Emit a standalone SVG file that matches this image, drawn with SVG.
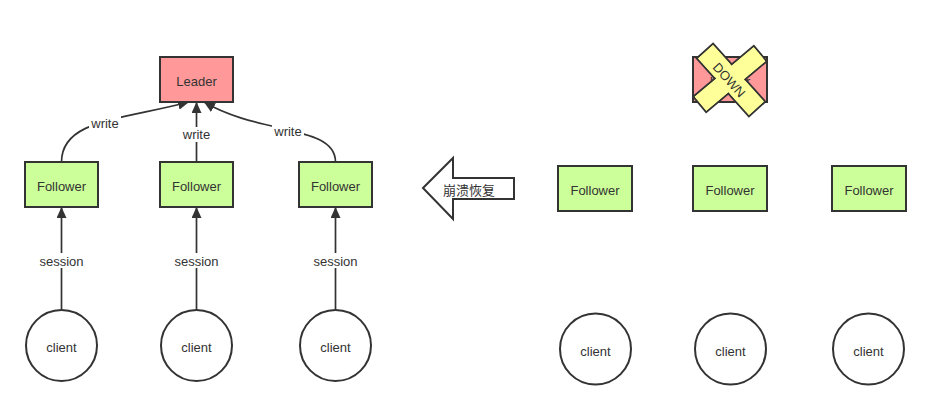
<svg xmlns="http://www.w3.org/2000/svg" width="931" height="409" viewBox="0 0 931 409">
<style>
text{font-family:"Liberation Sans",Arial,sans-serif;font-size:13px;fill:#333;text-anchor:middle;dominant-baseline:central}
.leader{fill:#ff9999;stroke:#333;stroke-width:2}
.follower{fill:#ccff99;stroke:#333;stroke-width:2}
.client{fill:#fff;stroke:#333;stroke-width:2}
.conn{fill:none;stroke:#333;stroke-width:1.7}
.lblbg{fill:#fff}
.bar{fill:#ffff99;stroke:#333;stroke-width:2}
.barfill{fill:#ffff99}
</style>
<defs>
<marker id="arr" markerUnits="userSpaceOnUse" markerWidth="12" markerHeight="10" refX="11" refY="5" orient="auto">
<path d="M0,0 L11,5 L0,10 z" fill="#333"/>
</marker>
</defs>
<rect width="931" height="409" fill="#fff"/>
<g id="connectors">
<path class="conn" d="M61.5,162 C61.5,120 120,120 189,102" marker-end="url(#arr)"/>
<path class="conn" d="M196.5,162 L196.5,102" marker-end="url(#arr)"/>
<path class="conn" d="M335.5,162 C335.5,125 260,135 204,102" marker-end="url(#arr)"/>
<path class="conn" d="M61.5,310 L61.5,207" marker-end="url(#arr)"/>
<path class="conn" d="M196.5,310 L196.5,207" marker-end="url(#arr)"/>
<path class="conn" d="M335.5,310 L335.5,207" marker-end="url(#arr)"/>
<rect class="lblbg" x="89" y="116" width="32" height="15"/>
<text x="105" y="123.5">write</text>
<rect class="lblbg" x="180" y="127" width="33" height="15"/>
<text x="196.5" y="134.5">write</text>
<rect class="lblbg" x="272" y="124" width="32" height="15"/>
<text x="288" y="131.5">write</text>
<rect class="lblbg" x="38" y="253" width="47" height="15"/>
<text x="61.5" y="261">session</text>
<rect class="lblbg" x="173" y="253" width="47" height="15"/>
<text x="196.5" y="261">session</text>
<rect class="lblbg" x="312" y="253" width="47" height="15"/>
<text x="335.5" y="261">session</text>
</g>
<g id="leader"><rect class="leader" x="160" y="57" width="73" height="45"/><text x="196.5" y="81">Leader</text></g>
<g id="follower1"><rect class="follower" x="25" y="162" width="73" height="45"/><text x="61.5" y="186">Follower</text></g>
<g id="follower2"><rect class="follower" x="160" y="162" width="73" height="45"/><text x="196.5" y="186">Follower</text></g>
<g id="follower3"><rect class="follower" x="299" y="162" width="73" height="45"/><text x="335.5" y="186">Follower</text></g>
<g id="client1"><circle class="client" cx="61.5" cy="345.5" r="35.5"/><text x="61.5" y="347">client</text></g>
<g id="client2"><circle class="client" cx="196.5" cy="345.5" r="35.5"/><text x="196.5" y="347">client</text></g>
<g id="client3"><circle class="client" cx="335.5" cy="345.5" r="35.5"/><text x="335.5" y="347">client</text></g>
<g id="recovery-arrow">
<polygon points="423,188 453,158 453,178 514,178 514,199 453,199 453,219" fill="#fff" stroke="#333" stroke-width="2"/>
<text x="469" y="189" style="font-family:'Noto Sans CJK SC','Liberation Sans',sans-serif">崩溃恢复</text>
</g>
<g id="leader-down">
<rect class="leader" x="693" y="57" width="74" height="45"/><text x="730" y="81">Leader</text>
<rect class="bar" x="-39" y="-11" width="78" height="22" transform="translate(731,80) rotate(48)"/>
<rect class="bar" x="-39.5" y="-10" width="79" height="20" transform="translate(730,79) rotate(-40)"/>
<rect class="barfill" x="-38" y="-10" width="76" height="20" transform="translate(731,80) rotate(48)"/>
<rect class="barfill" x="-38.5" y="-9" width="77" height="18" transform="translate(730,79) rotate(-40)"/>
<text x="0" y="0" transform="translate(729,80) rotate(48)">DOWN</text>
</g>
<g id="follower4"><rect class="follower" x="558" y="166" width="74" height="45"/><text x="595" y="190.5">Follower</text></g>
<g id="follower5"><rect class="follower" x="693" y="166" width="74" height="45"/><text x="730" y="190.5">Follower</text></g>
<g id="follower6"><rect class="follower" x="832" y="166" width="74" height="45"/><text x="869" y="190.5">Follower</text></g>
<g id="client4"><circle class="client" cx="595.5" cy="349" r="35.5"/><text x="595.5" y="351">client</text></g>
<g id="client5"><circle class="client" cx="730.5" cy="349" r="35.5"/><text x="730.5" y="351">client</text></g>
<g id="client6"><circle class="client" cx="868.5" cy="349" r="35.5"/><text x="868.5" y="351">client</text></g>
</svg>
